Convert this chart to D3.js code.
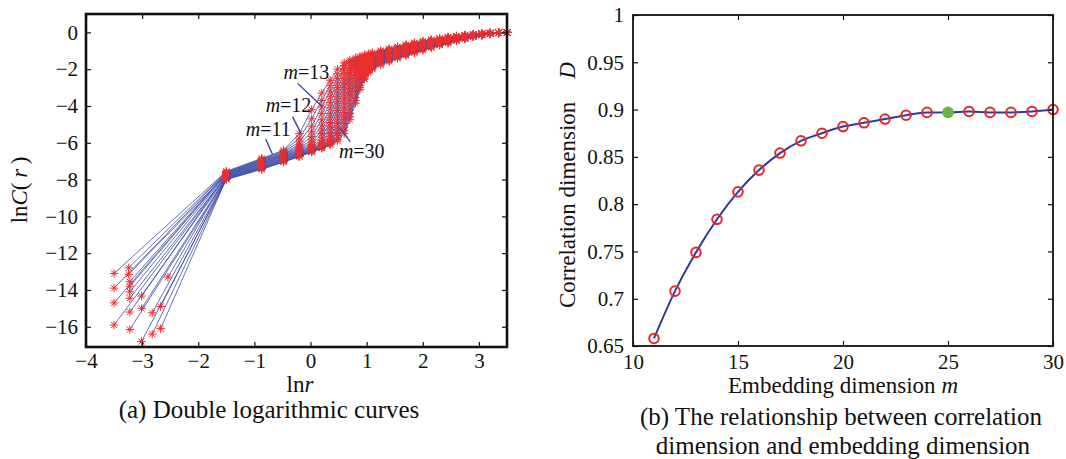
<!DOCTYPE html>
<html>
<head>
<meta charset="utf-8">
<script src="https://cdn.jsdelivr.net/npm/d3@7"></script>
<style>
  body { margin: 0; background: #fff; }
</style>
</head>
<body>
<svg width="1066" height="459"></svg>
<script>
// ---- panel (a): double logarithmic curves, one row per embedding dimension m
const mValues = [11, 12, 13, 14, 15, 16, 17, 18, 19, 20, 21, 22, 23, 24, 25, 26, 27, 28, 29, 30]
const startLnr = [-3.5, -3.24, -3.5, -3.22, -3.5, -3.22, -3.24, -3.22, -3.01, -3.5, -3.22, -2.54, -3.22, -3.01, -2.67, -2.82, -3.22, -2.67, -2.82, -3.01]
const startLnC = [-13.1, -12.8, -13.9, -13.55, -14.7, -13.8, -13.15, -14.1, -14.33, -15.9, -14.45, -13.3, -15.2, -15.0, -14.9, -15.24, -16.15, -16.1, -16.4, -16.8]
const lnrGrid = [-1.5, -0.87, -0.48, -0.2, 0.02, 0.2, 0.35, 0.48, 0.6, 0.7, 0.8, 0.88, 0.96, 1.03, 1.1, 1.25, 1.4, 1.55, 1.7, 1.85, 2.0, 2.15, 2.3, 2.45, 2.6, 2.75, 2.9, 3.05, 3.2, 3.35, 3.5]
const lnCCurves = [
  [-7.55, -6.85, -6.4, -5.5, -4.2, -3.3, -2.6, -2.0, -1.65, -1.5, -1.38, -1.3, -1.22, -1.16, -1.1, -0.98, -0.88, -0.77, -0.66, -0.56, -0.47, -0.39, -0.32, -0.25, -0.19, -0.14, -0.09, -0.05, -0.02, -0.01, 0],
  [-7.58, -6.88, -6.45, -5.75, -4.7, -3.7, -2.9, -2.25, -1.8, -1.6, -1.45, -1.37, -1.29, -1.22, -1.16, -1.02, -0.92, -0.80, -0.69, -0.59, -0.50, -0.41, -0.34, -0.27, -0.20, -0.15, -0.10, -0.06, -0.02, -0.01, 0],
  [-7.6, -6.92, -6.5, -5.95, -5.1, -4.05, -3.2, -2.5, -1.95, -1.7, -1.53, -1.43, -1.35, -1.28, -1.22, -1.06, -0.95, -0.84, -0.72, -0.62, -0.52, -0.44, -0.36, -0.28, -0.22, -0.16, -0.11, -0.06, -0.03, -0.01, 0],
  [-7.63, -6.95, -6.55, -6.1, -5.4, -4.4, -3.5, -2.75, -2.1, -1.8, -1.6, -1.5, -1.41, -1.34, -1.27, -1.10, -0.99, -0.87, -0.75, -0.65, -0.55, -0.46, -0.38, -0.30, -0.23, -0.17, -0.12, -0.07, -0.03, -0.01, 0],
  [-7.65, -6.98, -6.6, -6.2, -5.65, -4.75, -3.8, -3.0, -2.3, -1.92, -1.68, -1.56, -1.47, -1.39, -1.32, -1.14, -1.03, -0.91, -0.79, -0.68, -0.58, -0.48, -0.40, -0.32, -0.25, -0.18, -0.12, -0.07, -0.03, -0.02, 0],
  [-7.68, -7.02, -6.63, -6.28, -5.85, -5.05, -4.1, -3.25, -2.5, -2.05, -1.76, -1.62, -1.52, -1.44, -1.37, -1.19, -1.06, -0.94, -0.82, -0.70, -0.60, -0.51, -0.42, -0.34, -0.26, -0.20, -0.13, -0.08, -0.04, -0.02, 0],
  [-7.7, -7.05, -6.66, -6.34, -6.0, -5.3, -4.4, -3.5, -2.7, -2.18, -1.85, -1.69, -1.58, -1.49, -1.41, -1.23, -1.10, -0.97, -0.85, -0.73, -0.63, -0.53, -0.44, -0.35, -0.28, -0.21, -0.14, -0.08, -0.04, -0.02, 0],
  [-7.73, -7.08, -6.7, -6.4, -6.1, -5.5, -4.65, -3.75, -2.9, -2.32, -1.95, -1.76, -1.64, -1.54, -1.46, -1.27, -1.14, -1.01, -0.88, -0.76, -0.65, -0.55, -0.46, -0.37, -0.29, -0.22, -0.15, -0.09, -0.05, -0.02, 0],
  [-7.75, -7.12, -6.73, -6.45, -6.18, -5.7, -4.9, -4.0, -3.1, -2.48, -2.05, -1.83, -1.7, -1.59, -1.5, -1.31, -1.17, -1.04, -0.91, -0.79, -0.68, -0.58, -0.48, -0.39, -0.30, -0.23, -0.16, -0.10, -0.05, -0.02, 0],
  [-7.78, -7.15, -6.76, -6.5, -6.24, -5.85, -5.1, -4.25, -3.35, -2.65, -2.15, -1.9, -1.76, -1.64, -1.55, -1.35, -1.21, -1.07, -0.94, -0.82, -0.71, -0.60, -0.50, -0.41, -0.32, -0.24, -0.17, -0.10, -0.05, -0.02, 0],
  [-7.8, -7.18, -6.8, -6.53, -6.29, -5.97, -5.3, -4.5, -3.6, -2.85, -2.28, -1.98, -1.82, -1.69, -1.59, -1.39, -1.25, -1.11, -0.98, -0.85, -0.73, -0.62, -0.52, -0.42, -0.33, -0.25, -0.17, -0.11, -0.06, -0.03, 0],
  [-7.83, -7.22, -6.83, -6.57, -6.33, -6.05, -5.5, -4.75, -3.85, -3.05, -2.42, -2.08, -1.89, -1.75, -1.64, -1.43, -1.29, -1.14, -1.01, -0.88, -0.76, -0.64, -0.54, -0.44, -0.35, -0.26, -0.18, -0.11, -0.06, -0.03, 0],
  [-7.85, -7.25, -6.86, -6.6, -6.37, -6.12, -5.65, -4.95, -4.1, -3.25, -2.58, -2.18, -1.96, -1.8, -1.68, -1.47, -1.32, -1.17, -1.04, -0.91, -0.79, -0.67, -0.56, -0.46, -0.36, -0.27, -0.19, -0.12, -0.06, -0.03, 0],
  [-7.88, -7.28, -6.9, -6.63, -6.4, -6.17, -5.78, -5.15, -4.35, -3.45, -2.75, -2.3, -2.04, -1.86, -1.73, -1.51, -1.36, -1.21, -1.07, -0.94, -0.81, -0.69, -0.58, -0.48, -0.37, -0.28, -0.20, -0.13, -0.07, -0.03, 0],
  [-7.9, -7.31, -6.93, -6.66, -6.43, -6.21, -5.88, -5.3, -4.55, -3.7, -2.95, -2.42, -2.12, -1.92, -1.78, -1.55, -1.40, -1.24, -1.10, -0.97, -0.84, -0.71, -0.60, -0.49, -0.39, -0.29, -0.21, -0.13, -0.07, -0.03, 0],
  [-7.92, -7.34, -6.96, -6.69, -6.45, -6.24, -5.96, -5.45, -4.75, -3.95, -3.15, -2.56, -2.21, -1.99, -1.84, -1.60, -1.43, -1.28, -1.13, -0.99, -0.86, -0.74, -0.62, -0.51, -0.40, -0.31, -0.22, -0.14, -0.08, -0.03, 0],
  [-7.94, -7.37, -6.98, -6.71, -6.47, -6.26, -6.02, -5.6, -4.95, -4.2, -3.35, -2.72, -2.3, -2.05, -1.89, -1.64, -1.47, -1.31, -1.17, -1.02, -0.89, -0.76, -0.64, -0.53, -0.42, -0.32, -0.22, -0.14, -0.08, -0.04, 0],
  [-7.96, -7.4, -7.01, -6.73, -6.48, -6.28, -6.06, -5.72, -5.15, -4.4, -3.55, -2.88, -2.4, -2.11, -1.93, -1.68, -1.51, -1.34, -1.20, -1.05, -0.92, -0.78, -0.66, -0.55, -0.43, -0.33, -0.23, -0.15, -0.08, -0.04, 0],
  [-7.98, -7.42, -7.03, -6.74, -6.49, -6.29, -6.08, -5.82, -5.35, -4.6, -3.7, -3.0, -2.5, -2.17, -1.97, -1.72, -1.54, -1.38, -1.23, -1.08, -0.94, -0.81, -0.68, -0.56, -0.45, -0.34, -0.24, -0.15, -0.09, -0.04, 0],
  [-8.0, -7.45, -7.05, -6.75, -6.5, -6.3, -6.1, -5.9, -5.5, -4.75, -3.85, -3.1, -2.55, -2.2, -2.0, -1.76, -1.58, -1.41, -1.26, -1.11, -0.97, -0.83, -0.70, -0.58, -0.46, -0.35, -0.25, -0.16, -0.09, -0.04, 0]
]
const xTicksA = [-4, -3, -2, -1, 0, 1, 2, 3]
const yTicksA = [0, -2, -4, -6, -8, -10, -12, -14, -16]
// annotation labels: text position and pointer (in lnr / lnC units)
const noteM = ['13', '12', '11', '30']
const noteTextAt = [[-0.48, -2.54], [-0.80, -4.33], [-1.155, -5.64], [0.505, -6.83]]
const notePointer = [[[-0.23, -2.77], [0.21, -4.04]], [[-0.32, -4.59], [-0.17, -5.49]], [[-0.80, -5.8], [-0.68, -6.61]], [[0.71, -5.95], [0.53, -5.22]]]

// ---- panel (b): correlation dimension against embedding dimension
const embedDim = [11, 12, 13, 14, 15, 16, 17, 18, 19, 20, 21, 22, 23, 24, 25, 26, 27, 28, 29, 30]
const corrDim = [0.658, 0.708, 0.749, 0.784, 0.813, 0.836, 0.854, 0.867, 0.875, 0.882, 0.886, 0.890, 0.894, 0.897, 0.897, 0.898, 0.897, 0.897, 0.898, 0.900]
const chosenM = 25
const xTicksB = [10, 15, 20, 25, 30]
const yTicksB = [0.65, 0.7, 0.75, 0.8, 0.85, 0.9, 0.95, 1]

const FONT = 'Liberation Serif'
const svg = d3.select('svg')
svg.append('rect').attr('width', 1066).attr('height', 459).attr('fill', '#fff')

const minus = function(v) { return String(v).replace('-', '\u2212') }

function label(parent, size) {
  return parent.append('text').attr('font-family', FONT).attr('font-size', size).attr('fill', '#111')
}

function drawFrame(g, xs, ys, xt, yt, fx, fy, padX, padY, boxW) {
  const [x0, x1] = xs.range()
  const [y0, y1] = ys.range()
  g.append('g').attr('transform', 'translate(0,' + y0 + ')')
    .call(d3.axisBottom(xs).tickValues(xt).tickSize(-5).tickPadding(padX).tickFormat(fx))
  g.append('g').attr('transform', 'translate(0,' + y1 + ')')
    .call(d3.axisTop(xs).tickValues(xt).tickSize(-5).tickFormat(''))
  g.append('g').attr('transform', 'translate(' + x0 + ',0)')
    .call(d3.axisLeft(ys).tickValues(yt).tickSize(-5).tickPadding(padY).tickFormat(fy))
  g.append('g').attr('transform', 'translate(' + x1 + ',0)')
    .call(d3.axisRight(ys).tickValues(yt).tickSize(-5).tickFormat(''))
  g.selectAll('.domain').remove()
  g.selectAll('.tick line').attr('stroke', '#111').attr('stroke-width', 1.2)
  g.selectAll('.tick text').attr('font-family', FONT).attr('font-size', 21).attr('fill', '#111')
  g.append('rect').attr('x', x0).attr('y', y1).attr('width', x1 - x0).attr('height', y0 - y1)
    .attr('fill', 'none').attr('stroke', '#111').attr('stroke-width', boxW)
}

// panel (a)
const xA = d3.scaleLinear().domain([-4, 3.5]).range([86, 507])
const yA = d3.scaleLinear().domain([-17.1, 1]).range([347, 14])
const gA = svg.append('g')
const lineA = d3.line().x(function(d) { return xA(d[0]) }).y(function(d) { return yA(d[1]) })
const star = 'M-4.2,0H4.2M0,-4.2V4.2M-3,-3L3,3M-3,3L3,-3'

mValues.forEach(function(m, k) {
  const pts = [[startLnr[k], startLnC[k]]].concat(lnrGrid.map(function(x, i) { return [x, lnCCurves[k][i]] }))
  const c = gA.append('g').attr('class', 'curve m' + m)
  c.append('path').datum(pts).attr('d', lineA)
    .attr('fill', 'none').attr('stroke', '#3d4ba6').attr('stroke-width', 0.8)
  c.selectAll('path.mk').data(pts).enter().append('path').attr('class', 'mk')
    .attr('d', star)
    .attr('transform', function(d) { return 'translate(' + xA(d[0]) + ',' + yA(d[1]) + ')' })
    .attr('stroke', '#ec2f2f').attr('stroke-width', 1).attr('fill', 'none')
})

noteM.forEach(function(m, i) {
  gA.append('line')
    .attr('x1', xA(notePointer[i][0][0])).attr('y1', yA(notePointer[i][0][1]))
    .attr('x2', xA(notePointer[i][1][0])).attr('y2', yA(notePointer[i][1][1]))
    .attr('stroke', '#2f3f9a').attr('stroke-width', 1.3)
  const t = label(gA, 20).attr('x', xA(noteTextAt[i][0])).attr('y', yA(noteTextAt[i][1]))
  t.append('tspan').attr('font-style', 'italic').text('m')
  t.append('tspan').text('=' + m)
})

drawFrame(gA, xA, yA, xTicksA, yTicksA, minus, minus, 6, 8, 2.6)

const ylabA = label(gA, 23).attr('transform', 'translate(27,190) rotate(-90)').attr('text-anchor', 'middle')
ylabA.append('tspan').text('ln')
ylabA.append('tspan').attr('font-style', 'italic').text('C')
ylabA.append('tspan').text('(\u2009')
ylabA.append('tspan').attr('font-style', 'italic').text('r')
ylabA.append('tspan').text('\u2009)')

const xlabA = label(gA, 23).attr('x', 300).attr('y', 392).attr('text-anchor', 'middle')
xlabA.append('tspan').text('ln')
xlabA.append('tspan').attr('font-style', 'italic').text('r')

label(svg, 25).attr('x', 269).attr('y', 418).attr('text-anchor', 'middle')
  .text('(a) Double logarithmic curves')

// panel (b)
const xB = d3.scaleLinear().domain([10, 30]).range([633, 1053])
const yB = d3.scaleLinear().domain([0.65, 1]).range([346, 15])
const gB = svg.append('g')

gB.append('path').datum(embedDim.map(function(m, i) { return [m, corrDim[i]] }))
  .attr('d', d3.line().curve(d3.curveMonotoneX).x(function(d) { return xB(d[0]) }).y(function(d) { return yB(d[1]) }))
  .attr('fill', 'none').attr('stroke', '#2b3c9c').attr('stroke-width', 2)

gB.selectAll('circle.pt').data(embedDim.filter(function(m) { return m !== chosenM })).enter()
  .append('circle').attr('class', 'pt')
  .attr('cx', function(m) { return xB(m) })
  .attr('cy', function(m) { return yB(corrDim[embedDim.indexOf(m)]) })
  .attr('r', 4.8).attr('fill', 'none').attr('stroke', '#e8262a').attr('stroke-width', 2)

gB.append('circle').attr('cx', xB(chosenM)).attr('cy', yB(corrDim[embedDim.indexOf(chosenM)]))
  .attr('r', 5.8).attr('fill', '#67b64c')

drawFrame(gB, xB, yB, xTicksB, yTicksB, function(v) { return String(v) }, function(v) { return String(v) }, 8, 9, 1.8)

const ylabB = label(gB, 23).attr('transform', 'translate(575,185) rotate(-90)').attr('text-anchor', 'middle')
ylabB.append('tspan').text('Correlation dimension\u2002\u2002')
ylabB.append('tspan').attr('font-style', 'italic').text('D')

const xlabB = label(gB, 23).attr('x', 843).attr('y', 393).attr('text-anchor', 'middle')
xlabB.append('tspan').text('Embedding dimension ')
xlabB.append('tspan').attr('font-style', 'italic').text('m')

label(svg, 25).attr('x', 841).attr('y', 425).attr('text-anchor', 'middle')
  .text('(b) The relationship between correlation')
label(svg, 25).attr('x', 843).attr('y', 454).attr('text-anchor', 'middle')
  .text('dimension and embedding dimension')
</script>
</body>
</html>
